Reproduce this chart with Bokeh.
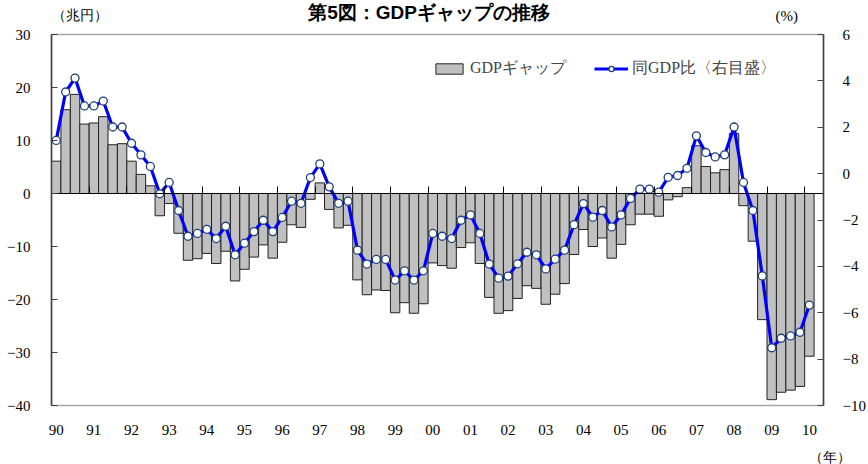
from bokeh.plotting import figure
from bokeh.layouts import column
from bokeh.models import (Range1d, LinearAxis, FixedTicker, Legend,
                          LegendItem, ColumnDataSource, Title)
from bokeh.core.properties import value
from bokeh.embed import file_html
from bokeh.resources import INLINE

# ---- data (quarterly, 1990Q1 - 2010Q1) ----
years = list(range(1990, 2011))
year_labels = [f"{y % 100:02d}" for y in years]

gdp_gap = [  # 兆円
    6.1, 15.8, 18.7, 13.1,
    13.3, 14.5, 9.2, 9.4,
    6.1, 3.6, 1.45, -4.2,
    -1.9, -7.5, -12.6, -12.3,
    -11.3, -13.2, -10.9, -16.5,
    -14.3, -12.0, -9.7, -12.2,
    -9.2, -5.9, -6.4, -1.1,
    2.0, -3.0, -6.5, -6.0,
    -16.3, -19.1, -18.2, -18.3,
    -22.5, -20.6, -22.6, -20.8,
    -13.1, -13.6, -14.1, -10.2,
    -9.3, -13.2, -19.6, -22.6,
    -22.1, -19.8, -17.4, -17.9,
    -20.9, -19.0, -17.0, -11.5,
    -6.8, -10.0, -8.4, -12.2,
    -9.6, -5.9, -3.9, -3.9,
    -4.3, -1.2, -0.6, 1.1,
    9.0, 5.1, 3.9, 4.5,
    11.3, -2.3, -9.0, -23.8,
    -38.9, -37.5, -37.1, -36.4,
    -30.7,
]

gap_ratio = [  # % (right axis)
    1.43, 3.52, 4.12, 2.92,
    2.92, 3.13, 2.01, 2.01,
    1.31, 0.81, 0.31, -0.87,
    -0.38, -1.59, -2.70, -2.58,
    -2.40, -2.80, -2.27, -3.50,
    -3.00, -2.50, -2.01, -2.50,
    -1.89, -1.19, -1.28, -0.17,
    0.42, -0.57, -1.28, -1.19,
    -3.30, -3.90, -3.70, -3.70,
    -4.59, -4.19, -4.59, -4.19,
    -2.58, -2.70, -2.80, -2.01,
    -1.78, -2.58, -3.90, -4.51,
    -4.42, -3.89, -3.39, -3.50,
    -4.11, -3.69, -3.30, -2.20,
    -1.29, -1.88, -1.59, -2.30,
    -1.78, -1.07, -0.67, -0.67,
    -0.80, -0.16, -0.08, 0.23,
    1.63, 0.91, 0.72, 0.81,
    2.01, -0.38, -1.59, -4.41,
    -7.51, -7.10, -7.00, -6.84,
    -5.67,
]

left_ticks = [-40, -30, -20, -10, 0, 10, 20, 30]
right_ticks = [-10, -8, -6, -4, -2, 0, 2, 4, 6]

title_text = "第5図：GDPギャップの推移"
left_unit = "（兆円）"
right_unit = "(%)"
x_unit = "（年）"
legend_labels = ["GDPギャップ", "同GDP比〈右目盛〉"]

n_quarters = len(gdp_gap)
quarter_idx = list(range(n_quarters))
n_slots = 82  # one empty slot after 2010Q1

SERIF = "Liberation Serif"
W = 868
TOP_H, BOTTOM_H = 25, 22
MAIN_H = 464 - TOP_H - BOTTOM_H
FRAME_L, FRAME_R = 51, 826  # frames of the stacked figures are aligned


def text_strip(height):
    f = figure(width=W, height=height, x_range=Range1d(FRAME_L, FRAME_R),
               y_range=Range1d(height, 0),
               x_axis_type=None, y_axis_type=None, output_backend="svg",
               toolbar_location=None, min_border=0)
    f.outline_line_color = None
    f.xgrid.visible = False
    f.ygrid.visible = False
    return f


# ---- top strip: title and unit labels ----
top = text_strip(TOP_H)
top.text(x=[430], y=[12], text=[title_text], text_align="center", text_baseline="middle",
         text_font=value("Liberation Sans"), text_font_style="bold",
         text_font_size="19px", text_color="black")
top.text(x=[52], y=[14.5], text=[left_unit], text_align="left", text_baseline="middle",
         text_font=value(SERIF), text_font_size="14px", text_color="black")
top.text(x=[789], y=[15.5], text=[right_unit], text_align="center", text_baseline="middle",
         text_font=value(SERIF), text_font_size="15px", text_color="black")

# ---- main chart ----
source = ColumnDataSource(dict(q=quarter_idx, gap=gdp_gap, ratio=gap_ratio))

p = figure(width=W, height=MAIN_H,
           x_range=Range1d(-0.5, n_slots - 0.5),
           y_range=Range1d(left_ticks[0], left_ticks[-1]),
           output_backend="svg", toolbar_location=None,
           min_border_left=FRAME_L, min_border_right=W - FRAME_R,
           min_border_top=9, min_border_bottom=MAIN_H - 9 - 371)
p.extra_y_ranges = {"right": Range1d(right_ticks[0], right_ticks[-1])}
p.xgrid.visible = False
p.ygrid.visible = False
p.outline_line_color = "#A6A6A6"
p.outline_line_width = 1.5

bars = p.vbar(x="q", top="gap", width=1.0, source=source,
              fill_color="#C0C0C0", line_color="#222222", line_width=1)
line = p.line(x="q", y="ratio", source=source, y_range_name="right",
              line_color="#0000FF", line_width=3.2)
pts = p.scatter(x="q", y="ratio", source=source, y_range_name="right",
                size=8, fill_color="white", line_color="#1F3F75", line_width=1.3)


def style_y(ax, standoff):
    ax.axis_line_color = "#404040"
    ax.axis_line_width = 1.5
    ax.major_tick_line_color = "#404040"
    ax.major_tick_in = 6
    ax.major_tick_out = 0
    ax.minor_tick_line_color = None
    ax.major_label_standoff = standoff
    ax.major_label_text_font = SERIF
    ax.major_label_text_font_size = "15px"
    ax.major_label_text_color = "black"


ya = p.yaxis[0]
ya.ticker = FixedTicker(ticks=left_ticks)
style_y(ya, 21)

ra = LinearAxis(y_range_name="right", ticker=FixedTicker(ticks=right_ticks))
style_y(ra, 19)
p.add_layout(ra, "right")

# bottom year labels (at each Q1)
label_pos = [4 * i for i in range(len(years))]
xa = p.xaxis[0]
xa.ticker = FixedTicker(ticks=label_pos)
xa.major_label_overrides = {pos: lab for pos, lab in zip(label_pos, year_labels)}
xa.axis_line_color = None
xa.major_tick_line_color = None
xa.minor_tick_line_color = None
xa.major_tick_out = 0
xa.major_tick_in = 0
xa.major_label_standoff = 19
xa.major_label_text_font = SERIF
xa.major_label_text_font_size = "15px"
xa.major_label_text_color = "black"

# zero line with year-boundary ticks
boundaries = [4 * i - 0.5 for i in range(1, len(years))]
za = LinearAxis(fixed_location=0, ticker=FixedTicker(ticks=boundaries))
za.axis_line_color = "black"
za.axis_line_width = 1
za.major_tick_line_color = "black"
za.major_tick_in = 7
za.major_tick_out = 0
za.minor_tick_line_color = None
za.major_label_text_font_size = "0px"
za.major_label_text_color = None
za.major_label_standoff = 0
p.add_layout(za, "below")

legend = Legend(items=[
    LegendItem(label=legend_labels[0], renderers=[bars]),
    LegendItem(label=legend_labels[1], renderers=[line, pts]),
], orientation="horizontal", location=(381, 326))
legend.padding = 0
legend.margin = 0
legend.spacing = 28
legend.label_standoff = 4
legend.glyph_width = 34
legend.glyph_height = 13
legend.label_height = 16
legend.label_text_font = SERIF
legend.label_text_font_size = "16px"
legend.border_line_color = None
legend.background_fill_alpha = 0
p.add_layout(legend)

# ---- bottom strip: x unit (a title, so it may extend past the frame) ----
bottom = text_strip(BOTTOM_H)
bottom.add_layout(Title(text=x_unit, align="left", offset=757, standoff=0,
                        text_font=SERIF, text_font_size="14px",
                        text_font_style="normal", text_color="black"), "below")

layout = column(top, p, bottom, spacing=0)
open("out.html", "w").write(file_html(layout, INLINE))
